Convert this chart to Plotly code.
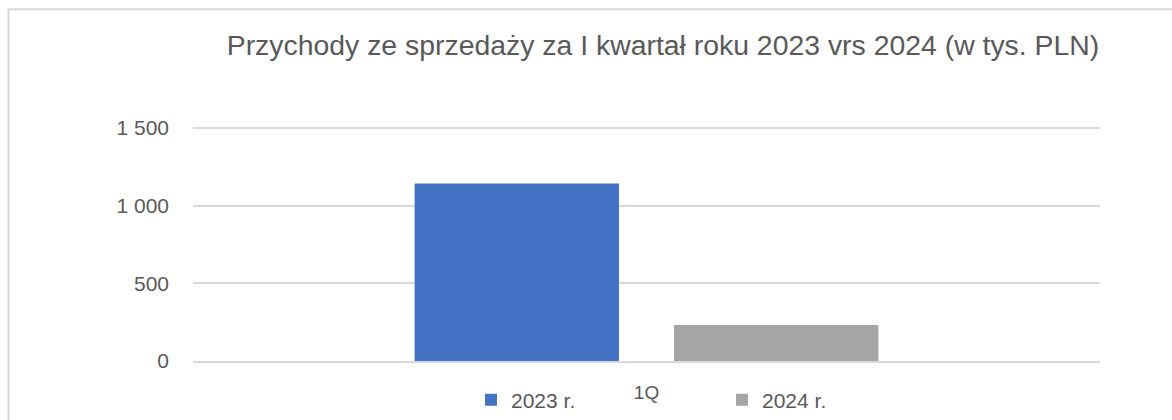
import plotly.graph_objects as go

categories = ["1Q"]
series_names = ["2023 r.", "2024 r."]
values_2023 = [1142]
values_2024 = [232]
y_ticks = [0, 500, 1000, 1500]
y_tick_labels = ["0", "500", "1 000", "1 500"]
colors = ["#4472C4", "#A5A5A5"]
title_text = "Przychody ze sprzedaży za I kwartał roku 2023 vrs 2024 (w tys. PLN)"

W, H = 1172, 420
y_top = 1525
L, R, B = 193, 72, 59
ph = y_top / 500 * 77.67
T = H - B - ph
pw = W - L - R

def px(x):
    return (x - L) / pw

def py(y):
    return (H - B - y) / ph

font_family = "Liberation Sans, Arial, sans-serif"
text_color = "#595959"

fig = go.Figure()
fig.add_trace(go.Bar(x=categories, y=values_2023, name=series_names[0], showlegend=True,
                     marker=dict(color=colors[0], line=dict(width=0)), legend="legend"))
fig.add_trace(go.Bar(x=categories, y=values_2024, name=series_names[1], showlegend=True,
                     marker=dict(color=colors[1], line=dict(width=0)), legend="legend2"))

leg_common = dict(orientation="h", yanchor="middle", xanchor="left", visible=True,
                  font=dict(family=font_family, size=21, color=text_color),
                  bgcolor="rgba(0,0,0,0)", itemwidth=30)

fig.update_layout(
    width=W, height=H, showlegend=True,
    margin=dict(l=L, r=R, t=T, b=B, autoexpand=False),
    paper_bgcolor="white", plot_bgcolor="white",
    barmode="group", bargap=0.428, bargroupgap=0.212,
    title=dict(text=title_text, x=663 / W, xref="container", xanchor="center",
               y=1 - 45 / H, yref="container", yanchor="middle",
               font=dict(family=font_family, size=28.4, color=text_color)),
    legend=dict(x=px(471), y=py(400), **leg_common),
    legend2=dict(x=px(722), y=py(400), **leg_common),
    xaxis=dict(showgrid=False, showline=True, linecolor="#d9d9d9", linewidth=2,
               ticks="", ticklabelstandoff=13,
               tickfont=dict(family=font_family, size=19, color=text_color)),
    yaxis=dict(range=[0, y_top], tickvals=y_ticks, ticktext=y_tick_labels,
               showgrid=True, gridcolor="#d9d9d9", gridwidth=2, zeroline=False,
               ticks="", ticklabelstandoff=23, showline=False,
               tickfont=dict(family=font_family, size=21, color=text_color)),
    shapes=[dict(type="path", xref="paper", yref="paper",
                 path=f"M {px(8.5)},{py(430)} L {px(8.5)},{py(9.5)} L {px(1180)},{py(9.5)}",
                 line=dict(color="#d9d9d9", width=2), layer="below")],
)

fig.write_html("out.html", config={"displayModeBar": False},
               post_script="document.body.style.margin='0';")
